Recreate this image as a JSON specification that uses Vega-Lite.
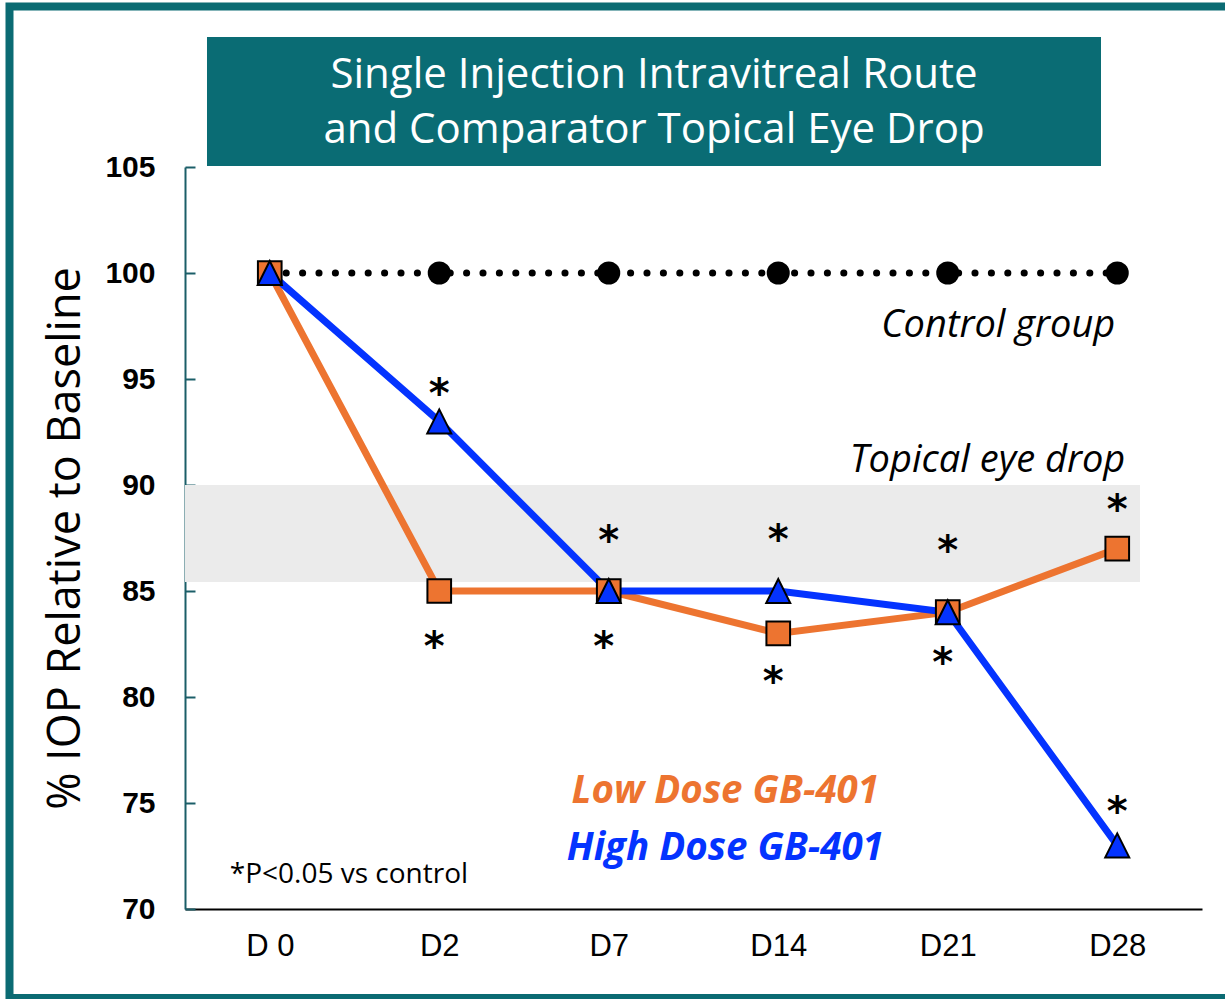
{
  "$schema": "https://vega.github.io/schema/vega-lite/v6.json",
  "width": 1017,
  "height": 742,
  "autosize": {"type": "none"},
  "padding": {"left": 185, "top": 167, "right": 23, "bottom": 90},
  "background": "white",
  "config": {"view": {"stroke": null}},
  "datasets": {
    "iop": [
      {"day": "D 0", "group": "Control", "value": 100},
      {"day": "D2", "group": "Control", "value": 100},
      {"day": "D7", "group": "Control", "value": 100},
      {"day": "D14", "group": "Control", "value": 100},
      {"day": "D21", "group": "Control", "value": 100},
      {"day": "D28", "group": "Control", "value": 100},
      {"day": "D 0", "group": "Low Dose GB-401", "value": 100},
      {"day": "D2", "group": "Low Dose GB-401", "value": 85},
      {"day": "D7", "group": "Low Dose GB-401", "value": 85},
      {"day": "D14", "group": "Low Dose GB-401", "value": 83},
      {"day": "D21", "group": "Low Dose GB-401", "value": 84},
      {"day": "D28", "group": "Low Dose GB-401", "value": 87},
      {"day": "D 0", "group": "High Dose GB-401", "value": 100},
      {"day": "D2", "group": "High Dose GB-401", "value": 93},
      {"day": "D7", "group": "High Dose GB-401", "value": 85},
      {"day": "D14", "group": "High Dose GB-401", "value": 85},
      {"day": "D21", "group": "High Dose GB-401", "value": 84},
      {"day": "D28", "group": "High Dose GB-401", "value": 73}
    ],
    "sig": [
      {"day": "D2", "group": "High Dose GB-401", "side": "above", "star": 94.72},
      {"day": "D2", "group": "Low Dose GB-401", "side": "below", "star": 82.78},
      {"day": "D7", "group": "High Dose GB-401", "side": "above", "star": 87.78},
      {"day": "D7", "group": "Low Dose GB-401", "side": "below", "star": 82.78},
      {"day": "D14", "group": "High Dose GB-401", "side": "above", "star": 87.83},
      {"day": "D14", "group": "Low Dose GB-401", "side": "below", "star": 81.13},
      {"day": "D21", "group": "High Dose GB-401", "side": "above", "star": 87.31},
      {"day": "D21", "group": "Low Dose GB-401", "side": "below", "star": 82.03},
      {"day": "D28", "group": "Low Dose GB-401", "side": "above", "star": 89.25},
      {"day": "D28", "group": "High Dose GB-401", "side": "above", "star": 75.0}
    ],
    "band": [{"label": "Topical eye drop", "lo": 85.42, "hi": 90}]
  },
  "resolve": {"scale": {"x": "independent"}},
  "layer": [
    {
      "data": {"name": "band"},
      "mark": {"type": "rect", "color": "#EBEBEB"},
      "encoding": {
        "x": {"datum": 0, "type": "quantitative", "scale": {"domain": [0, 1], "nice": false, "zero": false}, "axis": null},
        "x2": {"datum": 0.939},
        "y": {"field": "lo", "type": "quantitative", "title": "% IOP Relative to Baseline", "scale": {"domain": [70, 105], "nice": false, "zero": false}},
        "y2": {"field": "hi"}
      }
    },
    {
      "encoding": {
        "x": {
          "field": "day", "type": "nominal",
          "scale": {"type": "point", "padding": 0.5, "domain": ["D 0", "D2", "D7", "D14", "D21", "D28"]},
          "axis": {"title": null, "labelAngle": 0, "labelFont": "Liberation Sans", "labelFontSize": 31, "labelColor": "black", "ticks": false, "domainColor": "black", "domainWidth": 2, "labelPadding": 22, "grid": false}
        }
      },
      "layer": [
        {
          "data": {"name": "iop"},
          "transform": [{"filter": "datum.group === 'Control'"}],
          "mark": {"type": "line", "color": "black", "strokeWidth": 7, "strokeDash": [0.1, 16.3], "strokeCap": "round"},
          "encoding": {
            "y": {
              "field": "value", "type": "quantitative", "title": "% IOP Relative to Baseline",
              "scale": {"domain": [70, 105], "nice": false, "zero": false},
              "axis": {
                "values": [70, 75, 80, 85, 90, 95, 100, 105],
                "title": "% IOP Relative to Baseline",
                "titleFont": "Open Sans", "titleFontSize": 45, "titleFontWeight": "normal", "titleColor": "black", "titlePadding": 16,
                "labelFont": "Liberation Sans", "labelFontSize": 30, "labelFontWeight": "bold", "labelColor": "black",
                "domainColor": "#1B5E68", "domainWidth": 2, "tickColor": "#1B5E68", "tickWidth": 2, "tickSize": -10, "labelPadding": 40, "grid": false
              }
            }
          }
        },
        {
          "data": {"name": "iop"},
          "transform": [{"filter": "datum.group === 'Low Dose GB-401'"}],
          "mark": {"type": "line", "color": "#ED7430", "strokeWidth": 7},
          "encoding": {"y": {"field": "value", "type": "quantitative", "title": "% IOP Relative to Baseline"}}
        },
        {
          "data": {"name": "iop"},
          "transform": [{"filter": "datum.group === 'High Dose GB-401'"}],
          "mark": {"type": "line", "color": "#0433FF", "strokeWidth": 7},
          "encoding": {"y": {"field": "value", "type": "quantitative", "title": "% IOP Relative to Baseline"}}
        },
        {
          "data": {"name": "iop"},
          "transform": [{"filter": "datum.group === 'Control'"}],
          "mark": {"type": "point", "shape": "circle", "filled": true, "fill": "black", "stroke": null, "size": 531, "opacity": 1},
          "encoding": {"y": {"field": "value", "type": "quantitative", "title": "% IOP Relative to Baseline"}}
        },
        {
          "data": {"name": "iop"},
          "transform": [{"filter": "datum.group === 'Low Dose GB-401'"}],
          "mark": {"type": "point", "shape": "square", "filled": true, "fill": "#ED7430", "stroke": "black", "strokeWidth": 2, "size": 560, "opacity": 1},
          "encoding": {"y": {"field": "value", "type": "quantitative", "title": "% IOP Relative to Baseline"}}
        },
        {
          "data": {"name": "iop"},
          "transform": [{"filter": "datum.group === 'High Dose GB-401'"}],
          "mark": {"type": "point", "shape": "M-1,1L0,-1L1,1Z", "filled": true, "fill": "#0433FF", "stroke": "black", "strokeWidth": 2, "size": 576, "opacity": 1},
          "encoding": {"y": {"field": "value", "type": "quantitative", "title": "% IOP Relative to Baseline"}}
        },
        {
          "data": {"name": "sig"},
          "transform": [{"filter": "datum.side === 'above'"}],
          "mark": {"type": "text", "text": "*", "font": "DejaVu Sans", "fontWeight": "bold", "fontSize": 40, "color": "black", "align": "center", "baseline": "alphabetic", "dy": 22},
          "encoding": {"y": {"field": "star", "type": "quantitative", "title": "% IOP Relative to Baseline"}}
        },
        {
          "data": {"name": "sig"},
          "transform": [{"filter": "datum.side === 'below'"}],
          "mark": {"type": "text", "text": "*", "font": "DejaVu Sans", "fontWeight": "bold", "fontSize": 40, "color": "black", "align": "center", "baseline": "alphabetic", "dy": 22, "dx": -5},
          "encoding": {"y": {"field": "star", "type": "quantitative", "title": "% IOP Relative to Baseline"}}
        },
        {
          "data": {"values": [{"label": "Control group"}]},
          "mark": {"type": "text", "font": "Open Sans", "fontStyle": "italic", "fontSize": 38, "color": "black", "align": "right", "baseline": "alphabetic", "dx": -2},
          "encoding": {
            "text": {"field": "label"},
            "x": {"datum": "D28", "type": "nominal"},
            "y": {"datum": 96.98, "type": "quantitative", "title": "% IOP Relative to Baseline"}
          }
        },
        {
          "data": {"name": "band"},
          "mark": {"type": "text", "font": "Open Sans", "fontStyle": "italic", "fontSize": 38, "color": "black", "align": "right", "baseline": "alphabetic", "dx": 8},
          "encoding": {
            "text": {"field": "label"},
            "x": {"datum": "D28", "type": "nominal"},
            "y": {"datum": 90.61, "type": "quantitative", "title": "% IOP Relative to Baseline"}
          }
        },
        {
          "data": {"values": [{"label": "Low Dose GB-401"}]},
          "mark": {"type": "text", "font": "Open Sans", "fontStyle": "italic", "fontWeight": "bold", "fontSize": 38.5, "color": "#ED7430", "align": "center", "baseline": "alphabetic", "dx": -53},
          "encoding": {
            "text": {"field": "label"},
            "x": {"datum": "D14", "type": "nominal"},
            "y": {"datum": 75.0, "type": "quantitative", "title": "% IOP Relative to Baseline"}
          }
        },
        {
          "data": {"values": [{"label": "High Dose GB-401"}]},
          "mark": {"type": "text", "font": "Open Sans", "fontStyle": "italic", "fontWeight": "bold", "fontSize": 38.5, "color": "#0433FF", "align": "center", "baseline": "alphabetic", "dx": -53},
          "encoding": {
            "text": {"field": "label"},
            "x": {"datum": "D14", "type": "nominal"},
            "y": {"datum": 72.31, "type": "quantitative", "title": "% IOP Relative to Baseline"}
          }
        },
        {
          "data": {"values": [{"label": "*P<0.05 vs control"}]},
          "mark": {"type": "text", "font": "Open Sans", "fontSize": 28, "color": "black", "align": "left", "baseline": "alphabetic", "dx": -40},
          "encoding": {
            "text": {"field": "label"},
            "x": {"datum": "D 0", "type": "nominal"},
            "y": {"datum": 71.23, "type": "quantitative", "title": "% IOP Relative to Baseline"}
          }
        }
      ]
    },
    {
      "data": {"values": [{"title": "Single Injection Intravitreal Route and Comparator Topical Eye Drop"}]},
      "mark": {"type": "rect", "color": "#0A6C74"},
      "encoding": {
        "x": {"datum": 0.02163, "type": "quantitative", "scale": {"domain": [0, 1], "nice": false, "zero": false}, "axis": null},
        "x2": {"datum": 0.90069},
        "y": {"datum": 105.047, "type": "quantitative", "title": "% IOP Relative to Baseline"},
        "y2": {"datum": 111.132}
      }
    },
    {
      "data": {"values": [{"line1": "Single Injection Intravitreal Route", "line2": "and Comparator Topical Eye Drop"}]},
      "mark": {"type": "text", "font": "Open Sans", "fontSize": 42, "color": "white", "align": "center", "baseline": "alphabetic", "lineHeight": 55, "text": ["Single Injection Intravitreal Route", "and Comparator Topical Eye Drop"]},
      "encoding": {
        "x": {"datum": 0.4612, "type": "quantitative", "scale": {"domain": [0, 1], "nice": false, "zero": false}, "axis": null},
        "y": {"datum": 108.726, "type": "quantitative", "title": "% IOP Relative to Baseline"}
      }
    },
    {
      "data": {"values": [{"frame": "border"}]},
      "mark": {"type": "rect", "fill": null, "fillOpacity": 0, "stroke": "#0B6B73", "strokeWidth": 8},
      "encoding": {
        "x": {"datum": -0.17257, "type": "quantitative", "scale": {"domain": [0, 1], "nice": false, "zero": false}, "axis": null},
        "x2": {"datum": 1.0324},
        "y": {"datum": 112.571, "type": "quantitative", "title": "% IOP Relative to Baseline"},
        "y2": {"datum": 65.8}
      }
    }
  ]
}
